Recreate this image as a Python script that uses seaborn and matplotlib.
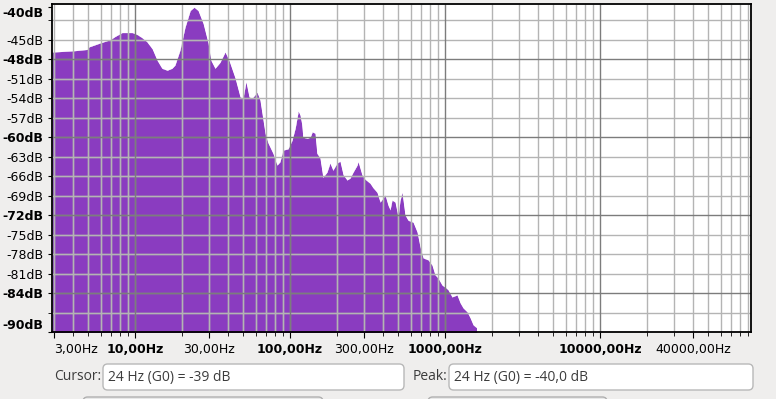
import numpy as np
import pandas as pd
import matplotlib
matplotlib.use('Agg')
import matplotlib.pyplot as plt
from matplotlib.patches import FancyBboxPatch
import seaborn as sns

# spectrum envelope (Hz, dB)
freq_hz = [2.91, 4.04, 4.90, 5.05, 5.95, 6.90, 7.43, 8.24, 9.57, 10.3, 11.1, 11.9, 12.9,
           13.9, 14.9, 16.1, 17.3, 18.1, 19.5, 21.0, 22.7, 24.0, 25.5, 27.5, 29.6, 30.9,
           32.8, 35.3, 38.1, 40.4, 44.2, 47.6, 49.7, 52.0, 54.4, 56.9, 61.3, 64.0, 69.0,
           72.1, 77.6, 82.4, 86.1, 90.1, 97.1, 103, 108, 113, 116, 119, 121, 129, 135,
           139, 145, 149, 156, 163, 173, 181, 189, 201, 210, 220, 233, 244, 255, 271,
           275, 291, 305, 328, 343, 364, 381, 398, 410, 429, 442, 455, 476, 498, 512,
           528, 552, 577, 622, 660, 690, 722, 777, 824, 861, 901, 957, 1000, 1045, 1109,
           1195, 1250, 1307, 1387, 1450, 1517, 1608, 1615]
level_db = [-46.9, -46.7, -46.5, -46.1, -45.5, -45.0, -44.5, -43.9, -43.9, -44.2, -44.7,
            -45.3, -46.4, -48.2, -49.4, -49.7, -49.4, -48.9, -46.6, -43.1, -40.5, -40.0,
            -40.5, -42.5, -45.5, -48.2, -49.4, -48.5, -46.9, -48.2, -50.9, -53.8, -54.0,
            -51.5, -53.8, -54.0, -53.1, -54.3, -59.4, -60.9, -62.5, -64.3, -63.8, -62.0,
            -61.8, -60.5, -58.6, -56.0, -56.6, -58.0, -60.0, -60.2, -60.0, -59.2, -59.4,
            -62.5, -63.2, -66.2, -65.4, -64.0, -65.1, -64.0, -63.7, -65.8, -66.6, -66.3,
            -65.4, -64.3, -63.8, -65.8, -66.5, -67.1, -67.8, -68.5, -70.0, -69.4, -68.9,
            -70.5, -71.2, -69.7, -70.0, -72.3, -69.8, -68.5, -72.0, -72.8, -73.1, -74.6,
            -76.9, -78.6, -78.9, -79.7, -81.2, -81.7, -82.8, -83.1, -83.5, -84.6, -84.3,
            -85.5, -86.3, -86.9, -87.8, -88.9, -89.4, -95.0]

x_label_freqs = [3, 10, 30, 100, 300, 1000, 10000, 40000]
x_label_text = ['3,00Hz', '10,00Hz', '30,00Hz', '100,00Hz', '300,00Hz',
                '1000,00Hz', '10000,00Hz', '40000,00Hz']
x_label_bold = [False, True, False, True, False, True, True, False]
y_label_db = [-40, -45, -48, -51, -54, -57, -60, -63, -66, -69, -72, -75, -78, -81, -84, -90]
y_bold_db = [-40, -48, -60, -72, -84, -90]
y_grid_db = [-42, -45, -48, -51, -54, -57, -60, -63, -66, -69, -72, -75, -78, -81, -84, -87]
y_major_db = [-48, -60, -72, -84]

cursor_text = '24 Hz (G0) = -39 dB'
peak_text = '24 Hz (G0) = -40,0 dB'

purple = '#8a3cc0'
bg = '#efeeed'
XMIN, XMAX = 2.914, 94200
YMIN, YMAX = -90, -39.5

sns.set_style('white')
plt.rcParams['font.family'] = ['DejaVu Sans']

W, H = 776, 399
fig = plt.figure(figsize=(W / 100, H / 100), dpi=100, facecolor=bg)
ax = fig.add_axes([52 / W, (H - 332) / H, 699 / W, 328 / H])
ax.set_facecolor('white')
ax.set_xscale('log')
ax.set_xlim(XMIN, XMAX)
ax.set_ylim(YMIN, YMAX)

# grid positions
grid_f = [k * 10 ** n for n in range(0, 5) for k in range(1, 10)]
grid_f = [f for f in grid_f if XMIN < f < XMAX]
major_f = [10, 100, 1000, 10000]
minor_f = [f for f in grid_f if f not in major_f]
minor_db = [d for d in y_grid_db if d not in y_major_db]

def draw_grid(cmin, cmaj, z):
    ax.vlines(minor_f, YMIN, YMAX, colors=cmin, lw=1.0, zorder=z)
    ax.hlines(minor_db, XMIN, XMAX, colors=cmin, lw=1.0, zorder=z)
    ax.vlines(major_f, YMIN, YMAX, colors=cmaj, lw=1.0, zorder=z)
    ax.hlines(y_major_db, XMIN, XMAX, colors=cmaj, lw=1.0, zorder=z)

df = pd.DataFrame({'freq': freq_hz, 'db': level_db})

# purple spectrum with greenish grid on it
ax.fill_between(df['freq'], df['db'], -95, color=purple, lw=0, zorder=1)
sns.lineplot(data=df, x='freq', y='db', ax=ax, color=purple, lw=0.5, zorder=1)
draw_grid('#a4bb9e', '#80a07a', 2)

# white area above the spectrum, gray grid on that
ax.fill_between(df['freq'], df['db'], YMAX + 1, color='white', lw=0, zorder=3)
ax.axvspan(df['freq'].iloc[-1], XMAX * 1.1, color='white', lw=0, zorder=3)
draw_grid('#b4b4b4', '#7c7c7c', 4)
ax.fill_between(df['freq'], df['db'], -95, color=purple, lw=0, zorder=4.5, alpha=0)

# ticks
ax.set_xticks(x_label_freqs)
ax.set_xticklabels(x_label_text)
ax.set_xticks(grid_f, minor=True)
ax.set_yticks(y_label_db)
ax.set_yticklabels([f'{d}dB' for d in y_label_db])
ax.set_yticks([-42, -87], minor=True)
ax.tick_params(axis='both', which='both', direction='out', color='black',
               labelsize=9, labelcolor='black', bottom=True, left=True)
ax.tick_params(axis='x', which='major', length=4, pad=4)
ax.tick_params(axis='x', which='minor', length=3)
ax.tick_params(axis='y', which='both', length=3, pad=3)
ax.set_xlabel('')
ax.set_ylabel('')

for lbl, b in zip(ax.get_xticklabels(), x_label_bold):
    lbl.set_fontweight('bold' if b else 'normal')
ax.get_xticklabels()[0].set_ha('left')
for lbl, d in zip(ax.get_yticklabels(), y_label_db):
    lbl.set_fontweight('bold' if d in y_bold_db else 'normal')
ax.get_yticklabels()[0].set_va('top')
ax.get_yticklabels()[-1].set_va('bottom')

for s in ax.spines.values():
    s.set_visible(True)
    s.set_color('black')
    s.set_linewidth(1.3)
    s.set_zorder(6)

# bottom text fields
def px_box(x0, y0, x1, y1, face, edge):
    p = FancyBboxPatch((x0 / W, 1 - y1 / H), (x1 - x0) / W, (y1 - y0) / H,
                       boxstyle='round,pad=0,rounding_size=0.006',
                       transform=fig.transFigure, facecolor=face, edgecolor=edge,
                       lw=1.0, mutation_aspect=W / H)
    fig.add_artist(p)

px_box(103, 364, 404, 390, 'white', '#b8b8b8')
px_box(449, 364, 753, 390, 'white', '#b8b8b8')
px_box(83, 397, 323, 420, '#e8e8e8', '#b0b0b0')
px_box(428, 397, 607, 420, '#e8e8e8', '#b0b0b0')

tf = dict(fontsize=10, color='#3c3c3c', va='center', family=['Open Sans', 'DejaVu Sans'])
fig.text(101 / W, 1 - 377 / H, 'Cursor:', ha='right', **tf)
fig.text(108 / W, 1 - 377 / H, cursor_text, ha='left', **tf)
fig.text(447 / W, 1 - 377 / H, 'Peak:', ha='right', **tf)
fig.text(454 / W, 1 - 377 / H, peak_text, ha='left', **tf)

fig.savefig('out.png', dpi=100, facecolor=bg)
